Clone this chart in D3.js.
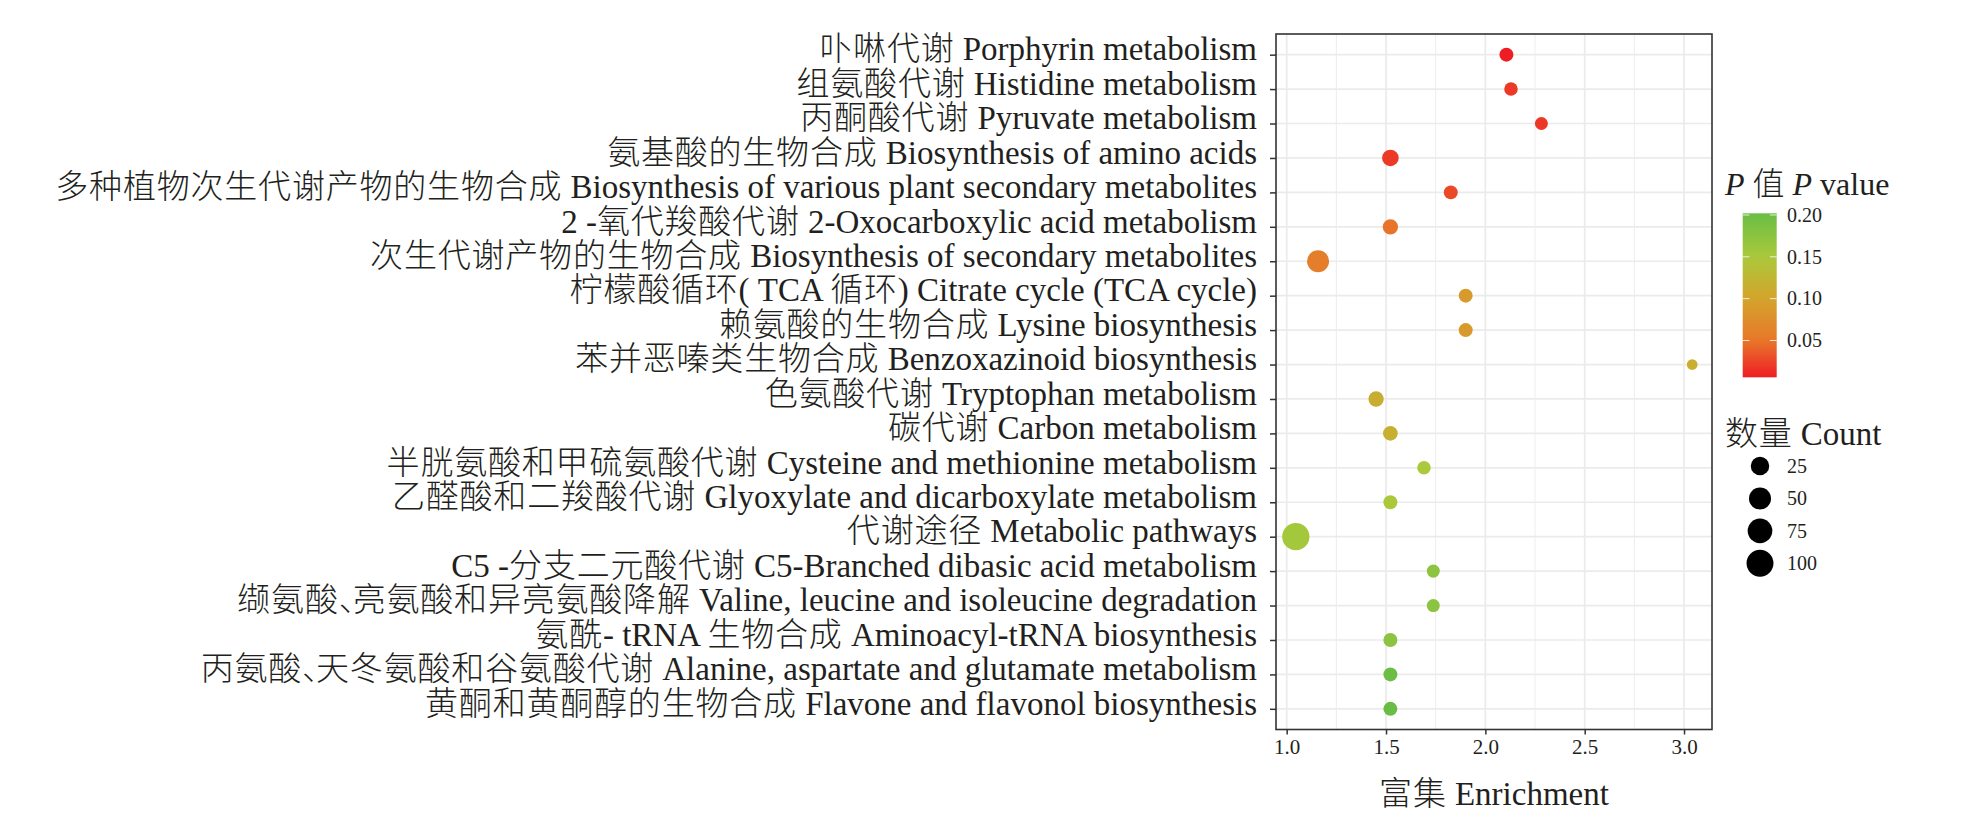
<!DOCTYPE html>
<html lang="zh">
<head>
<meta charset="UTF-8">
<title>KEGG enrichment bubble chart</title>
<script src="https://d3js.org/d3.v7.min.js"></script>
<style>
  html, body { margin: 0; padding: 0; background: #fff; }
  svg { display: block; }
  .lbl { font-family: "Liberation Serif", "Times New Roman", "Noto Sans CJK SC", serif; fill: #231f20; }
  .cjk { font-weight: 300; }
</style>
</head>
<body>
<svg id="chart" width="1967" height="836"></svg>
<script>
// pathways, top to bottom
const pathways = [
  "卟啉代谢 Porphyrin metabolism",
  "组氨酸代谢 Histidine metabolism",
  "丙酮酸代谢 Pyruvate metabolism",
  "氨基酸的生物合成 Biosynthesis of amino acids",
  "多种植物次生代谢产物的生物合成 Biosynthesis of various plant secondary metabolites",
  "2 -氧代羧酸代谢 2-Oxocarboxylic acid metabolism",
  "次生代谢产物的生物合成 Biosynthesis of secondary metabolites",
  "柠檬酸循环( TCA 循环) Citrate cycle (TCA cycle)",
  "赖氨酸的生物合成 Lysine biosynthesis",
  "苯并恶嗪类生物合成 Benzoxazinoid biosynthesis",
  "色氨酸代谢 Tryptophan metabolism",
  "碳代谢 Carbon metabolism",
  "半胱氨酸和甲硫氨酸代谢 Cysteine and methionine metabolism",
  "乙醛酸和二羧酸代谢 Glyoxylate and dicarboxylate metabolism",
  "代谢途径 Metabolic pathways",
  "C5 -分支二元酸代谢 C5-Branched dibasic acid metabolism",
  "缬氨酸、亮氨酸和异亮氨酸降解 Valine, leucine and isoleucine degradation",
  "氨酰- tRNA 生物合成 Aminoacyl-tRNA biosynthesis",
  "丙氨酸、天冬氨酸和谷氨酸代谢 Alanine, aspartate and glutamate metabolism",
  "黄酮和黄酮醇的生物合成 Flavone and flavonol biosynthesis"
];
const enrichment = [2.106, 2.129, 2.282, 1.522, 1.826, 1.522, 1.158, 1.901, 1.901, 3.041,
                    1.450, 1.522, 1.691, 1.522, 1.046, 1.738, 1.738, 1.522, 1.522, 1.522];
const pValues    = [0.006, 0.019, 0.019, 0.020, 0.027, 0.048, 0.058, 0.089, 0.089, 0.113,
                    0.114, 0.115, 0.150, 0.149, 0.155, 0.174, 0.174, 0.174, 0.200, 0.202];
const counts     = [6, 5, 4, 15, 6, 10, 50, 6, 6, 2,
                    10, 8, 5, 6, 105, 4, 4, 6, 6, 6];

const xTicks = [1.0, 1.5, 2.0, 2.5, 3.0];
const xMinor = [1.25, 1.75, 2.25, 2.75];
const pTicks = [0.05, 0.10, 0.15, 0.20];
const countBreaks = [25, 50, 75, 100];
const pStops = [0.05, 0.10, 0.15];
const pColors = ["#ee1d24", "#e8772a", "#d4a42c", "#aac93b", "#69bd45"];

const data = pathways.map((name, i) => ({ name, x: enrichment[i], p: pValues[i], n: counts[i] }));

const svg = d3.select("#chart");
const panel = { left: 1276, right: 1712, top: 34, bottom: 729.5 };

// split a label into CJK / latin runs so the CJK glyphs can be spaced like the original
const cjkRe = /[\u3000-\u303f\u3400-\u9fff\uff00-\uffef]/;
function runs(str) {
  const out = [];
  for (const ch of str) {
    const kind = ch === "、" ? "comma" : (cjkRe.test(ch) ? "cjk" : "latin");
    const last = out[out.length - 1];
    if (last && last.kind === kind && kind !== "comma") last.s += ch;
    else out.push({ kind, s: ch });
  }
  return out;
}
function fillRuns(sel, str) {
  sel.text(null);
  runs(str).forEach(r => {
    const t = sel.append("tspan").text(r.s);
    if (r.kind === "cjk") t.attr("class", "cjk").style("letter-spacing", "0.8px");
    if (r.kind === "comma") t.attr("class", "cjk").style("letter-spacing", "-19px");
  });
}

// scales
const xExt = d3.extent(enrichment);
const xPad = (xExt[1] - xExt[0]) * 0.05;
const x = d3.scaleLinear().domain([xExt[0] - xPad, xExt[1] + xPad]).range([panel.left, panel.right]);
const y = d3.scalePoint().domain(pathways).range([panel.top, panel.bottom]).padding(0.6);

const pExt = d3.extent(pValues);
const color = d3.scaleLinear()
  .domain([pExt[0], ...pStops, pExt[1]])
  .range(pColors)
  .interpolate(d3.interpolateRgb);

const nExt = d3.extent(counts);
const radius = d3.scaleSqrt().domain([0, nExt[1] - nExt[0]]).range([5.35, 13.65]);
const r = n => radius(n - nExt[0]);

// grid
const grid = svg.append("g");
grid.selectAll(".minor").data(xMinor).join("line")
  .attr("x1", d => x(d)).attr("x2", d => x(d))
  .attr("y1", panel.top).attr("y2", panel.bottom)
  .attr("stroke", "#ebebeb").attr("stroke-width", 0.9);
grid.selectAll(".majorx").data(xTicks).join("line")
  .attr("x1", d => x(d)).attr("x2", d => x(d))
  .attr("y1", panel.top).attr("y2", panel.bottom)
  .attr("stroke", "#ebebeb").attr("stroke-width", 1.7);
grid.selectAll(".majory").data(pathways).join("line")
  .attr("x1", panel.left).attr("x2", panel.right)
  .attr("y1", d => y(d)).attr("y2", d => y(d))
  .attr("stroke", "#ebebeb").attr("stroke-width", 1.7);

// points
svg.append("g").selectAll("circle").data(data).join("circle")
  .attr("cx", d => x(d.x))
  .attr("cy", d => y(d.name))
  .attr("r", d => r(d.n))
  .attr("fill", d => color(d.p));

// border
svg.append("rect")
  .attr("x", panel.left).attr("y", panel.top)
  .attr("width", panel.right - panel.left).attr("height", panel.bottom - panel.top)
  .attr("fill", "none").attr("stroke", "#333").attr("stroke-width", 1.6);

// y axis
const yAxis = svg.append("g").attr("transform", `translate(${panel.left},0)`)
  .call(d3.axisLeft(y).tickSize(6).tickPadding(13));
yAxis.select(".domain").remove();
yAxis.selectAll(".tick line").attr("stroke", "#333").attr("stroke-width", 1.5);
yAxis.selectAll(".tick text")
  .attr("class", "lbl").attr("dy", "0.16em")
  .style("font-size", "33px").attr("fill", "#231f20")
  .each(function(d) { fillRuns(d3.select(this), d); });

// x axis
const xAxis = svg.append("g").attr("transform", `translate(0,${panel.bottom})`)
  .call(d3.axisBottom(x).tickValues(xTicks).tickFormat(d3.format(".1f")).tickSize(5).tickPadding(4.5));
xAxis.select(".domain").remove();
xAxis.selectAll(".tick line").attr("stroke", "#333").attr("stroke-width", 1.5);
xAxis.selectAll(".tick text")
  .attr("class", "lbl").style("font-size", "21px").attr("fill", "#231f20");

const xt = svg.append("text").attr("class", "lbl")
  .attr("x", (panel.left + panel.right) / 2).attr("y", 805)
  .attr("text-anchor", "middle").style("font-size", "33px");
fillRuns(xt, "富集 Enrichment");

// colour legend
const cb = { x: 1742.7, w: 34, top: 213.3, bottom: 377.3 };
const pY = d3.scaleLinear().domain(pExt).range([cb.bottom, cb.top]);

const t1 = svg.append("text").attr("class", "lbl").attr("x", 1725).attr("y", 195).style("font-size", "32px");
t1.append("tspan").attr("font-style", "italic").text("P");
t1.append("tspan").text(" ");
t1.append("tspan").attr("class", "cjk").text("值");
t1.append("tspan").text(" ");
t1.append("tspan").attr("font-style", "italic").text("P");
t1.append("tspan").text(" value");

const grad = svg.append("defs").append("linearGradient")
  .attr("id", "pgrad").attr("x1", 0).attr("y1", 1).attr("x2", 0).attr("y2", 0);
grad.selectAll("stop").data(d3.range(0, 1.0001, 0.05)).join("stop")
  .attr("offset", d => `${d * 100}%`)
  .attr("stop-color", d => color(pExt[0] + d * (pExt[1] - pExt[0])));

svg.append("rect")
  .attr("x", cb.x).attr("y", cb.top)
  .attr("width", cb.w).attr("height", cb.bottom - cb.top)
  .attr("fill", "url(#pgrad)");

const cbTicks = svg.append("g");
cbTicks.selectAll(".tl").data(pTicks).join("line")
  .attr("x1", cb.x).attr("x2", cb.x + 6.8)
  .attr("y1", d => pY(d)).attr("y2", d => pY(d))
  .attr("stroke", "#fff").attr("stroke-opacity", 0.8).attr("stroke-width", 1);
cbTicks.selectAll(".tr").data(pTicks).join("line")
  .attr("x1", cb.x + cb.w - 6.8).attr("x2", cb.x + cb.w)
  .attr("y1", d => pY(d)).attr("y2", d => pY(d))
  .attr("stroke", "#fff").attr("stroke-opacity", 0.8).attr("stroke-width", 1);
cbTicks.selectAll("text").data(pTicks).join("text")
  .attr("class", "lbl").attr("x", 1787).attr("y", d => pY(d) + 6.7)
  .style("font-size", "20px").text(d3.format(".2f"));

// size legend
const ct = svg.append("text").attr("class", "lbl").attr("x", 1725).attr("y", 445)
  .style("font-size", "33px");
fillRuns(ct, "数量 Count");

const sizeRow = d3.scalePoint().domain(countBreaks).range([466, 563.3]);
const sl = svg.append("g");
sl.selectAll("circle").data(countBreaks).join("circle")
  .attr("cx", 1760).attr("cy", d => sizeRow(d)).attr("r", d => r(d)).attr("fill", "#000");
sl.selectAll("text").data(countBreaks).join("text")
  .attr("class", "lbl").attr("x", 1787).attr("y", d => sizeRow(d) + 7)
  .style("font-size", "20px").text(d => d);
</script>
</body>
</html>
